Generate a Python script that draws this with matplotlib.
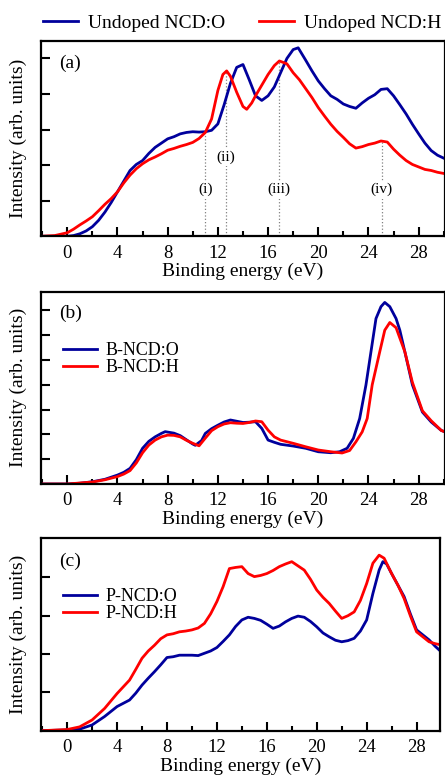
import numpy as np
from matplotlib import pyplot as plt
from matplotlib.ticker import MultipleLocator

plt.rcParams['font.family'] = ['Liberation Serif', 'DejaVu Serif']

BLUE = '#00009c'
RED = '#ff0000'

# (a) undoped
a_o_x = [-2.1, -1, 0, 0.5, 1, 1.5, 2, 2.5, 3, 3.5, 4, 4.5, 5, 5.5, 6, 6.5, 7, 7.5, 8, 8.5, 9, 9.5, 10, 10.5, 11,
         11.5, 12, 12.5, 13, 13.5, 14.0, 14.5, 15, 15.5, 16, 16.5, 17, 17.5, 18, 18.4, 19, 19.5, 20, 20.5, 21,
         21.5, 22, 22.5, 23, 23.5, 24, 24.5, 25, 25.5, 26, 26.5, 27, 27.5, 28, 28.5, 29, 29.5, 30.1]
a_o_y = [0.0, 0.0, 0.0, 0.02, 0.07, 0.15, 0.27, 0.45, 0.68, 0.95, 1.25, 1.55, 1.85, 2.02, 2.13, 2.33, 2.5, 2.62,
         2.74, 2.8, 2.88, 2.92, 2.94, 2.93, 2.94, 2.98, 3.16, 3.7, 4.3, 4.75, 4.83, 4.4, 3.95, 3.82, 3.95, 4.2,
         4.6, 5.0, 5.25, 5.3, 4.95, 4.65, 4.37, 4.15, 3.95, 3.85, 3.72, 3.65, 3.6, 3.75, 3.88, 3.98, 4.13, 4.15,
         3.95, 3.7, 3.44, 3.15, 2.88, 2.62, 2.41, 2.28, 2.18]
a_h_x = [-2.1, -1, 0, 0.5, 1, 1.5, 2, 2.5, 3, 3.5, 4, 4.5, 5, 5.5, 6, 6.5, 7, 7.5, 8, 8.5, 9, 9.5, 10, 10.5, 11,
         11.5, 12, 12.4, 12.7, 13, 13.5, 14, 14.3, 14.7, 15, 15.5, 16, 16.5, 16.9, 17.5, 18, 18.5, 19, 19.5, 20,
         20.5, 21, 21.5, 22, 22.5, 23, 23.5, 24, 24.5, 25, 25.5, 26, 26.5, 27, 27.5, 28, 28.5, 29, 29.5, 30.1]
a_h_y = [0.0, 0.02, 0.1, 0.2, 0.32, 0.43, 0.55, 0.72, 0.9, 1.06, 1.25, 1.5, 1.72, 1.9, 2.04, 2.15, 2.23, 2.32,
         2.42, 2.47, 2.53, 2.58, 2.64, 2.75, 2.92, 3.3, 4.1, 4.55, 4.65, 4.5, 4.05, 3.65, 3.57, 3.75, 3.95, 4.25,
         4.55, 4.8, 4.93, 4.85, 4.6, 4.4, 4.15, 3.9, 3.62, 3.38, 3.15, 2.95, 2.78, 2.6, 2.48, 2.52, 2.58, 2.62,
         2.68, 2.65, 2.45, 2.28, 2.13, 2.02, 1.95, 1.88, 1.85, 1.8, 1.76]
peak_x = [11.0, 12.62, 16.88, 25.05]
peak_names = ['(i)', '(ii)', '(iii)', '(iv)']
peak_label_y = [1.31, 2.22, 1.31, 1.31]

# (b) boron doped
b_o_x = [-2.1, 0, 1, 2, 3, 4, 4.5, 5, 5.5, 6, 6.5, 7, 7.5, 7.8, 8.5, 9, 9.5, 10, 10.2, 10.7, 11, 11.5, 12,
         12.5, 13, 13.5, 14, 14.5, 15, 15.5, 16, 16.5, 17, 18, 19, 20, 21, 21.7, 22.3, 22.8, 23.3, 23.8, 24.2,
         24.6, 25, 25.3, 25.7, 26.2, 26.5, 26.9, 27.5, 28.3, 29, 29.8, 30.1]
b_o_y = [0.0, 0.0, 0.03, 0.09, 0.19, 0.36, 0.47, 0.63, 0.98, 1.44, 1.72, 1.9, 2.04, 2.11, 2.05, 1.95, 1.78,
         1.61, 1.56, 1.75, 2.04, 2.23, 2.37, 2.5, 2.58, 2.53, 2.48, 2.49, 2.51, 2.24, 1.77, 1.68, 1.6, 1.53, 1.44,
         1.3, 1.26, 1.3, 1.44, 1.84, 2.64, 3.99, 5.33, 6.67, 7.15, 7.32, 7.15, 6.67, 6.2, 5.33, 4.0, 2.9, 2.5,
         2.16, 2.1]
b_h_x = [-2.1, 0, 2, 3, 4, 4.5, 5, 5.5, 6, 6.5, 7, 7.5, 8, 8.5, 9, 9.5, 10, 10.5, 11, 11.5, 12, 12.5, 13, 13.5,
         14, 14.5, 15, 15.5, 16, 16.5, 17, 18, 19, 20, 21, 21.9, 22.5, 23, 23.5, 23.9, 24.3, 24.9, 25.3, 25.7,
         26.2, 26.9, 27.5, 28.3, 29, 29.8, 30.1]
b_h_y = [0.0, 0.0, 0.08, 0.17, 0.3, 0.4, 0.54, 0.85, 1.26, 1.57, 1.77, 1.9, 1.97, 1.96, 1.9, 1.76, 1.64, 1.54,
         1.85, 2.15, 2.31, 2.42, 2.47, 2.45, 2.44, 2.48, 2.54, 2.51, 2.17, 1.9, 1.77, 1.64, 1.5, 1.37, 1.3, 1.25,
         1.35, 1.7, 2.1, 2.64, 4.0, 5.33, 6.2, 6.51, 6.3, 5.33, 4.1, 2.95, 2.55, 2.16, 2.1]

# (c) phosphorus doped
c_o_x = [-2.1, 0, 1, 2, 3, 4, 5, 5.5, 6, 6.5, 7, 7.5, 8, 8.5, 9, 9.5, 10, 10.5, 11, 11.5, 12, 12.5, 13, 13.5,
         14, 14.5, 15, 15.5, 16, 16.5, 17, 17.5, 18, 18.5, 19, 19.5, 20, 20.5, 21, 21.5, 22, 22.5, 23, 23.5, 24,
         24.5, 25, 25.3, 25.6, 26, 26.5, 27, 27.5, 28, 28.5, 29, 29.5, 30.1]
c_o_y = [0.0, 0.02, 0.04, 0.15, 0.37, 0.63, 0.8, 0.98, 1.19, 1.37, 1.54, 1.72, 1.91, 1.93, 1.97, 1.97, 1.97,
         1.96, 2.02, 2.08, 2.17, 2.33, 2.5, 2.72, 2.89, 2.96, 2.93, 2.88, 2.78, 2.67, 2.73, 2.84, 2.93, 2.99, 2.96,
         2.85, 2.71, 2.55, 2.45, 2.36, 2.32, 2.35, 2.41, 2.6, 2.89, 3.58, 4.19, 4.41, 4.35, 4.1, 3.8, 3.5, 3.05,
         2.63, 2.5, 2.37, 2.2, 2.02]
c_h_x = [-2.1, 0, 1, 2, 3, 4, 5, 5.5, 6, 6.5, 7, 7.5, 8, 8.5, 9, 9.5, 10, 10.5, 11, 11.5, 12, 12.5, 13, 13.5,
         14, 14.5, 15, 15.5, 16, 16.5, 17, 17.5, 18, 18.5, 19, 19.5, 20, 20.5, 21, 21.5, 22, 22.5, 23, 23.5, 24,
         24.5, 25, 25.4, 26, 26.5, 27, 27.5, 28, 28.5, 29, 29.5, 30.1]
c_h_y = [0.0, 0.03, 0.1, 0.28, 0.58, 0.97, 1.32, 1.6, 1.89, 2.08, 2.23, 2.4, 2.5, 2.53, 2.58, 2.6, 2.63, 2.68,
         2.8, 3.05, 3.37, 3.76, 4.23, 4.26, 4.28, 4.1, 4.02, 4.05, 4.1, 4.18, 4.28, 4.35, 4.41, 4.3, 4.19, 3.95,
         3.67, 3.48, 3.32, 3.12, 2.93, 3.0, 3.1, 3.4, 3.84, 4.37, 4.58, 4.5, 4.1, 3.8, 3.45, 3.0, 2.58, 2.45,
         2.32, 2.27, 2.23]


def style_axes(ax, ymax, nticks, letter, label_y):
    ax.set_xlim(-2.1, 30.1)
    ax.set_ylim(0, ymax)
    ax.xaxis.set_major_locator(MultipleLocator(4))
    ax.xaxis.set_minor_locator(MultipleLocator(2))
    ax.set_yticks(np.arange(1, nticks + 1))
    ax.set_yticklabels([])
    ax.tick_params(which='both', direction='in', width=1.5, labelsize=13.5, pad=6)
    ax.tick_params(which='major', length=6.5)
    ax.tick_params(which='minor', length=3.5)
    for s in ax.spines.values():
        s.set_linewidth(1.6)
    ax.set_xlabel('Binding energy (eV)', fontsize=14, labelpad=1)
    ax.set_ylabel('Intensity (arb. units)', fontsize=14, labelpad=4)
    ax.text(0.045, label_y, letter, transform=ax.transAxes, fontsize=14, va='center')


fig = plt.figure(figsize=(4.45, 7.78), dpi=100)
ax1 = fig.add_axes([0.092, 0.6963, 0.908, 0.2514])
ax2 = fig.add_axes([0.092, 0.3779, 0.908, 0.2471])
ax3 = fig.add_axes([0.092, 0.0608, 0.896, 0.2473])

ax1.plot(a_o_x, a_o_y, color=BLUE, lw=2.0, label='Undoped NCD:O')
ax1.plot(a_h_x, a_h_y, color=RED, lw=2.0, label='Undoped NCD:H')
for px, name, ly in zip(peak_x, peak_names, peak_label_y):
    top = np.interp(px, a_h_x, a_h_y)
    ax1.plot([px, px], [0, top], color='gray', lw=0.9, ls=':', zorder=1)
    ax1.text(px, ly, name, fontsize=11, ha='center', va='center',
             bbox=dict(facecolor='white', edgecolor='none', pad=1.5), zorder=2)
style_axes(ax1, 5.5, 5, '(a)', 0.884)
ax1.legend(loc='center left', bbox_to_anchor=(0.005, 1.088), ncol=2, frameon=False, fontsize=14,
           handlelength=1.8, handletextpad=0.5, columnspacing=1.75, borderpad=0, borderaxespad=0)

ax2.plot(b_o_x, b_o_y, color=BLUE, lw=2.0, label='B-NCD:O')
ax2.plot(b_h_x, b_h_y, color=RED, lw=2.0, label='B-NCD:H')
style_axes(ax2, 7.75, 7, '(b)', 0.889)
ax2.legend(loc='center left', bbox_to_anchor=(0.055, 0.65), frameon=False, fontsize=13,
           handlelength=1.9, handletextpad=0.45, labelspacing=0.0, borderpad=0, borderaxespad=0)

ax3.plot(c_o_x, c_o_y, color=BLUE, lw=2.0, label='P-NCD:O')
ax3.plot(c_h_x, c_h_y, color=RED, lw=2.0, label='P-NCD:H')
style_axes(ax3, 5.02, 4, '(c)', 0.878)
ax3.set_xlim(-2.1, 29.85)
ax3.legend(loc='center left', bbox_to_anchor=(0.055, 0.651), frameon=False, fontsize=13,
           handlelength=1.9, handletextpad=0.45, labelspacing=0.0, borderpad=0, borderaxespad=0)

plt.savefig('out.png', dpi=100)
